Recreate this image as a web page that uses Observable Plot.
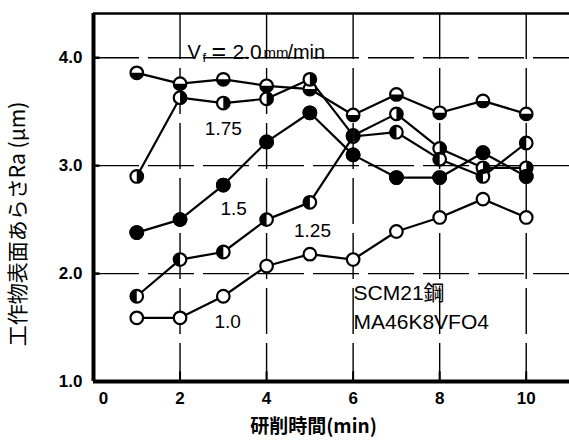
<!DOCTYPE html>
<html>
<head>
<meta charset="utf-8">
<script src="https://cdn.jsdelivr.net/npm/d3@7"></script>
<script src="https://cdn.jsdelivr.net/npm/@observablehq/plot@0.6"></script>
<style>
  html, body { margin: 0; padding: 0; background: #fff; }
  svg { display: block; }
</style>
</head>
<body>
<div id="chart"></div>
<script>
// ---- data ----
const times = [1, 2, 3, 4, 5, 6, 7, 8, 9, 10];
const ra20  = [3.86, 3.76, 3.80, 3.74, 3.71, 3.47, 3.66, 3.49, 3.60, 3.48];
const ra175 = [2.90, 3.63, 3.58, 3.62, 3.80, 3.28, 3.48, 3.16, 2.98, 2.98];
const ra15  = [2.38, 2.50, 2.82, 3.22, 3.49, 3.10, 2.89, 2.89, 3.12, 2.90];
const ra125 = [1.79, 2.13, 2.20, 2.50, 2.66, 3.27, 3.31, 3.06, 2.90, 3.21];
const ra10  = [1.59, 1.59, 1.79, 2.07, 2.18, 2.13, 2.39, 2.52, 2.69, 2.52];
const seriesNames = ["2.0", "1.75", "1.5", "1.25", "1.0"];
const xTicks = [0, 2, 4, 6, 8, 10];
const yTicks = [1, 2, 3, 4];
const xTitle = "研削時間(min)";
const yTitle = "工作物表面あらさRa (μm)";
const note1 = "SCM21鋼";
const note2 = "MA46K8VFO4";

const seriesValues = [ra20, ra175, ra15, ra125, ra10];
const markerStyle = {"2.0": "bottom", "1.75": "right", "1.5": "full", "1.25": "left", "1.0": "open"};
const data = seriesNames.flatMap((name, k) =>
  times.map((t, i) => ({t, ra: seriesValues[k][i], vf: name, style: markerStyle[name]})));

// curve labels
const curveLabels = [
  {text: "1.75", x: 3.00, y: 3.34},
  {text: "1.5",  x: 3.24, y: 2.60},
  {text: "1.25", x: 5.06, y: 2.40},
  {text: "1.0",  x: 3.10, y: 1.55}
];

// half-filled marker symbols
const halfSymbol = (a0, a1) => ({
  draw(context, size) {
    const r = Math.sqrt(size / Math.PI);
    context.moveTo(r * Math.cos(a0), r * Math.sin(a0));
    context.arc(0, 0, r, a0, a1);
    context.closePath();
  }
});
const symBottom = halfSymbol(0, Math.PI);
const symLeft = halfSymbol(Math.PI / 2, 3 * Math.PI / 2);
const symRight = halfSymbol(-Math.PI / 2, Math.PI / 2);

const R = 6.3;
const gridDash = "46,9";
const numFont = "'Liberation Sans', Arial, sans-serif";
const cjkFont = "'Noto Sans CJK JP', 'Noto Sans', sans-serif";
const vfX = 2.17, vfY = 4.05;

const chart = Plot.plot({
  width: 569,
  height: 443,
  marginLeft: 93,
  marginRight: 0,
  marginTop: 13,
  marginBottom: 62,
  x: {domain: [0, 11], axis: null},
  y: {domain: [1, 4.41], axis: null},
  style: {background: "#fff", color: "#000"},
  marks: [
    // grid
    Plot.ruleY([2, 3, 4], {stroke: "#000", strokeWidth: 1.4, strokeDasharray: gridDash}),
    Plot.ruleX([2, 4, 6, 8, 10], {stroke: "#000", strokeWidth: 1.4, strokeDasharray: gridDash}),
    // frame
    Plot.ruleY([1], {stroke: "#000", strokeWidth: 4}),
    Plot.ruleX([0], {stroke: "#000", strokeWidth: 4}),
    Plot.ruleY([4.41], {stroke: "#000", strokeWidth: 2.6}),
    // inward ticks
    Plot.ruleX(xTicks.slice(1), {y1: 1, y2: 1.09, stroke: "#000", strokeWidth: 2}),
    Plot.ruleY(yTicks.slice(1), {x1: 0, x2: 0.15, stroke: "#000", strokeWidth: 2.5}),
    // tick labels
    Plot.axisX(xTicks.slice(1), {tickSize: 0, tickPadding: 10, fontSize: 17, fontWeight: "bold", fontFamily: numFont, label: null}),
    Plot.axisX([0], {tickSize: 0, tickPadding: 10, dx: 10, fontSize: 17, fontWeight: "bold", fontFamily: numFont, label: null}),
    Plot.axisY(yTicks, {tickSize: 0, tickPadding: 11, tickFormat: d3.format(".1f"), fontSize: 17, fontWeight: "bold", fontFamily: numFont, label: null}),
    // lines
    Plot.line(data, {x: "t", y: "ra", z: "vf", stroke: "#000", strokeWidth: 2.2}),
    // markers
    Plot.dot(data, {x: "t", y: "ra", r: R, fill: "#fff", stroke: "#000", strokeWidth: 2.2}),
    Plot.dot(data.filter(d => d.style === "full"), {x: "t", y: "ra", r: R, fill: "#000", stroke: "#000", strokeWidth: 2.2}),
    Plot.dot(data.filter(d => d.style === "bottom"), {x: "t", y: "ra", r: R, symbol: symBottom, fill: "#000"}),
    Plot.dot(data.filter(d => d.style === "left"), {x: "t", y: "ra", r: R, symbol: symLeft, fill: "#000"}),
    Plot.dot(data.filter(d => d.style === "right"), {x: "t", y: "ra", r: R, symbol: symRight, fill: "#000"}),
    // curve labels
    Plot.text(curveLabels, {x: "x", y: "y", text: "text", fontSize: 19, fontFamily: numFont, fill: "#000", style: "letter-spacing:2px"}),
    // Vf label
    Plot.text(["V"], {x: vfX, y: vfY, textAnchor: "start", fontSize: 20, fontFamily: numFont}),
    Plot.text(["f"], {x: vfX, y: vfY, dx: 15, dy: 5, textAnchor: "start", fontSize: 13, fontFamily: numFont}),
    Plot.text(["="], {x: vfX, y: vfY, dx: 24, textAnchor: "start", fontSize: 25, fontFamily: numFont}),
    Plot.text(["2.0"], {x: vfX, y: vfY, dx: 45, textAnchor: "start", fontSize: 21, fontFamily: numFont, style: "letter-spacing:1px"}),
    Plot.text(["mm"], {x: vfX, y: vfY, dx: 76, dy: 1, textAnchor: "start", fontSize: 15, fontFamily: numFont}),
    Plot.text(["/min"], {x: vfX, y: vfY, dx: 100, textAnchor: "start", fontSize: 20, fontFamily: numFont, style: "letter-spacing:1px"}),
    // material notes
    Plot.text([note1], {x: 6.01, y: 1.815, textAnchor: "start", fontSize: 21, fontFamily: "'Liberation Sans', 'Noto Sans CJK JP', sans-serif"}),
    Plot.text([note2], {x: 6.01, y: 1.545, textAnchor: "start", fontSize: 21, fontFamily: numFont}),
    // axis titles
    Plot.text([xTitle], {frameAnchor: "bottom", dx: -18, dy: 51, fontSize: 19, fontWeight: "bold", fontFamily: cjkFont}),
    Plot.text([yTitle], {x: -1.73, y: 2.46, rotate: -90, fontSize: 21, fontFamily: cjkFont})
  ]
});
document.getElementById("chart").appendChild(chart);
</script>
</body>
</html>
